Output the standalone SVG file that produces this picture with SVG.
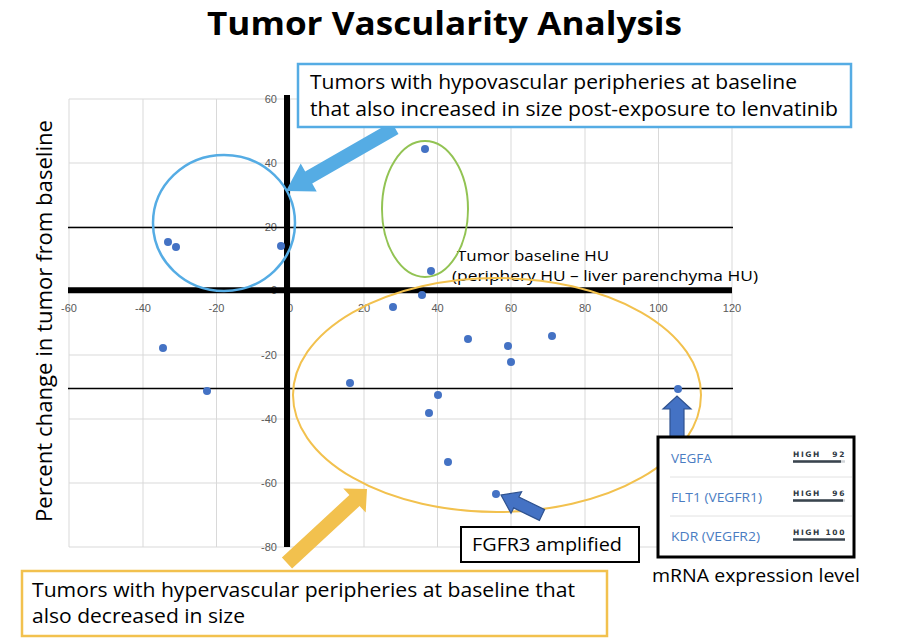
<svg xmlns="http://www.w3.org/2000/svg" width="899" height="642" viewBox="0 0 899 642">
<style>
.grid line{stroke:#d9d9d9;stroke-width:1}
.tick{font-family:"Liberation Sans",Arial,sans-serif;font-size:11px;fill:#595959}
.txt{font-family:"Open Sans","Noto Sans",sans-serif;fill:#000}
.pt{fill:#4472C4}
.gene{font-family:"Open Sans","Noto Sans",sans-serif;font-size:13.5px;fill:#4a7cc2}
.hi{font-family:"DejaVu Sans",sans-serif;font-size:7.5px;font-weight:bold;fill:#2e3842;letter-spacing:1.6px}
.bar{stroke:#3a444e;stroke-width:2.6}
.barbg{stroke:#d0d4d8;stroke-width:2.6}
</style>
<rect width="899" height="642" fill="#fff"/>
<text class="txt" x="444.5" y="35" text-anchor="middle" font-size="33" font-weight="bold" textLength="475" lengthAdjust="spacingAndGlyphs">Tumor Vascularity Analysis</text>

<g id="chart">
<g class="grid">
<line x1="69" y1="99" x2="69" y2="547"/>
<line x1="143" y1="99" x2="143" y2="547"/>
<line x1="216.5" y1="99" x2="216.5" y2="547"/>
<line x1="290" y1="99" x2="290" y2="547"/>
<line x1="364" y1="99" x2="364" y2="547"/>
<line x1="437.5" y1="99" x2="437.5" y2="547"/>
<line x1="511" y1="99" x2="511" y2="547"/>
<line x1="585" y1="99" x2="585" y2="547"/>
<line x1="658.5" y1="99" x2="658.5" y2="547"/>
<line x1="732" y1="99" x2="732" y2="547"/>
<line x1="69" y1="99" x2="732" y2="99"/>
<line x1="69" y1="163" x2="732" y2="163"/>
<line x1="69" y1="227" x2="732" y2="227"/>
<line x1="69" y1="291" x2="732" y2="291"/>
<line x1="69" y1="355" x2="732" y2="355"/>
<line x1="69" y1="419" x2="732" y2="419"/>
<line x1="69" y1="483" x2="732" y2="483"/>
<line x1="69" y1="547" x2="732" y2="547"/>
</g>
<g class="tick" text-anchor="end">
<text x="277" y="103">60</text>
<text x="277" y="167">40</text>
<text x="277" y="231">20</text>
<text x="277" y="294">0</text>
<text x="277" y="359">-20</text>
<text x="277" y="423">-40</text>
<text x="277" y="487">-60</text>
<text x="277" y="551">-80</text>
</g>
<g class="tick" text-anchor="middle">
<text x="69" y="312">-60</text>
<text x="143" y="312">-40</text>
<text x="216.5" y="312">-20</text>
<text x="290" y="312">0</text>
<text x="364" y="312">20</text>
<text x="437.5" y="312">40</text>
<text x="511" y="312">60</text>
<text x="585" y="312">80</text>
<text x="658.5" y="312">100</text>
<text x="732" y="312">120</text>
</g>
<line x1="68" y1="227.5" x2="733" y2="227.5" stroke="#000" stroke-width="1.5"/>
<line x1="68" y1="388.5" x2="733" y2="388.5" stroke="#000" stroke-width="1.5"/>
<line x1="287" y1="95" x2="287" y2="547" stroke="#000" stroke-width="6"/>
<line x1="68" y1="290.3" x2="732" y2="290.3" stroke="#000" stroke-width="6"/>
<text class="txt" transform="translate(52,321) rotate(-90)" text-anchor="middle" font-size="22" textLength="402" lengthAdjust="spacingAndGlyphs">Percent change in tumor from baseline</text>
<text class="txt" x="457" y="260.5" font-size="14.5" textLength="152" lengthAdjust="spacingAndGlyphs">Tumor baseline HU</text>
<text class="txt" x="452" y="280.5" font-size="14.5" textLength="306" lengthAdjust="spacingAndGlyphs">(periphery HU – liver parenchyma HU)</text>
<g id="points">
<circle class="pt" cx="168" cy="242" r="4"/>
<circle class="pt" cx="176" cy="247" r="4"/>
<circle class="pt" cx="281" cy="246" r="4"/>
<circle class="pt" cx="425" cy="149" r="4"/>
<circle class="pt" cx="431" cy="271" r="4"/>
<circle class="pt" cx="422" cy="295" r="4"/>
<circle class="pt" cx="393" cy="307" r="4"/>
<circle class="pt" cx="468" cy="339" r="4"/>
<circle class="pt" cx="508" cy="346" r="4"/>
<circle class="pt" cx="511" cy="362" r="4"/>
<circle class="pt" cx="552" cy="336" r="4"/>
<circle class="pt" cx="163" cy="348" r="4"/>
<circle class="pt" cx="207" cy="391" r="4"/>
<circle class="pt" cx="350" cy="383" r="4"/>
<circle class="pt" cx="438" cy="395" r="4"/>
<circle class="pt" cx="429" cy="413" r="4"/>
<circle class="pt" cx="448" cy="462" r="4"/>
<circle class="pt" cx="496" cy="494" r="4"/>
<circle class="pt" cx="678" cy="389" r="4"/>
</g>
</g>

<g id="groups" fill="none">
<ellipse id="hypo-circle" cx="224" cy="223" rx="71" ry="68" stroke="#55ACE4" stroke-width="2.5"/>
<ellipse id="green-ellipse" cx="425" cy="209" rx="43" ry="68" stroke="#92C353" stroke-width="2"/>
<ellipse id="hyper-ellipse" cx="497" cy="395" rx="204" ry="117" stroke="#F2C14E" stroke-width="2"/>
</g>

<g id="connectors">
<polygon fill="#55ACE4" points="391.5,121.9 305.2,171.4 300.7,163.6 286,191 316.7,191.4 312.2,183.6 398.5,134.1"/>
<polygon fill="#F2C14E" points="281.9,557.5 349.4,495 343.3,488.4 367,489 365.7,512.6 359.6,506 292.1,568.5"/>
<polygon fill="#4472C4" stroke="#2F528F" stroke-width="1.2" points="670,437 670,409 663,409 677,396 691,409 684,409 684,437"/>
<polygon fill="#4472C4" stroke="#2F528F" stroke-width="1.2" points="544.6,509.6 518.9,497.1 521.6,491.7 501,495 511,513.3 513.7,507.9 539.4,520.4"/>
</g>

<g id="hypo-box">
<rect x="298" y="64" width="553" height="63" fill="#fff" stroke="#55ACE4" stroke-width="2.5"/>
<text class="txt" x="310" y="89" font-size="19.5" textLength="487" lengthAdjust="spacingAndGlyphs">Tumors with hypovascular peripheries at baseline</text>
<text class="txt" x="310" y="116" font-size="19.5" textLength="528" lengthAdjust="spacingAndGlyphs">that also increased in size post-exposure to lenvatinib</text>
</g>

<g id="hyper-box">
<rect x="22" y="571" width="585" height="65" fill="#fff" stroke="#F2C14E" stroke-width="2.5"/>
<text class="txt" x="32" y="597" font-size="19.5" textLength="543" lengthAdjust="spacingAndGlyphs">Tumors with hypervascular peripheries at baseline that</text>
<text class="txt" x="32" y="623" font-size="19.5" textLength="213" lengthAdjust="spacingAndGlyphs">also decreased in size</text>
</g>

<g id="fgfr3-box">
<rect x="461" y="527" width="178" height="35" fill="#fff" stroke="#000" stroke-width="2"/>
<text class="txt" x="472" y="551" font-size="19" textLength="150" lengthAdjust="spacingAndGlyphs">FGFR3 amplified</text>
</g>

<g id="mrna-box">
<rect x="658" y="437" width="196" height="120" fill="#fff" stroke="#000" stroke-width="3"/>
<line x1="670" y1="477" x2="852" y2="477" stroke="#e2e2e2" stroke-width="1"/>
<line x1="670" y1="516" x2="852" y2="516" stroke="#e2e2e2" stroke-width="1"/>
<text class="gene" x="671" y="463">VEGFA</text>
<text class="gene" x="671" y="502" textLength="91" lengthAdjust="spacingAndGlyphs">FLT1 (VEGFR1)</text>
<text class="gene" x="671" y="541" textLength="89" lengthAdjust="spacingAndGlyphs">KDR (VEGFR2)</text>
<text class="hi" x="793" y="456.5">HIGH</text>
<text class="hi" x="846" y="456.5" text-anchor="end">92</text>
<line class="barbg" x1="793" y1="461.5" x2="845" y2="461.5"/>
<line class="bar" x1="793" y1="461.5" x2="841" y2="461.5"/>
<text class="hi" x="793" y="495.5">HIGH</text>
<text class="hi" x="846" y="495.5" text-anchor="end">96</text>
<line class="barbg" x1="793" y1="500.5" x2="845" y2="500.5"/>
<line class="bar" x1="793" y1="500.5" x2="843" y2="500.5"/>
<text class="hi" x="793" y="534.5">HIGH</text>
<text class="hi" x="846" y="534.5" text-anchor="end">100</text>
<line class="bar" x1="793" y1="539.5" x2="845" y2="539.5"/>
<text class="txt" x="652" y="582" font-size="19" textLength="208" lengthAdjust="spacingAndGlyphs">mRNA expression level</text>
</g>
</svg>
